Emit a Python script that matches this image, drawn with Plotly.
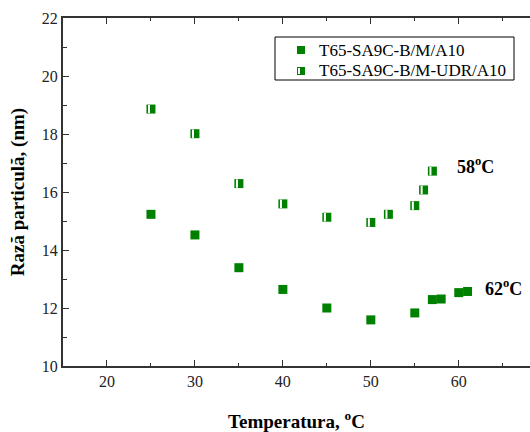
import plotly.graph_objects as go

temp_a = [25, 30, 35, 40, 45, 50, 55, 57, 58, 60, 61]
radius_a = [15.23, 14.52, 13.39, 12.64, 12.0, 11.59, 11.83, 12.29, 12.31, 12.53, 12.57]

temp_b = [25, 30, 35, 40, 45, 50, 52, 55, 56, 57]
radius_b = [18.86, 18.01, 16.29, 15.59, 15.13, 14.95, 15.23, 15.53, 16.07, 16.72]

name_a = "T65-SA9C-B/M/A10"
name_b = "T65-SA9C-B/M-UDR/A10"

GREEN = "#008000"
SERIF = "Liberation Serif"

fig = go.Figure()
fig.add_trace(go.Scatter(x=temp_a, y=radius_a, mode="markers", name=name_a, showlegend=False,
                         marker=dict(symbol="square", size=9, color=GREEN, line=dict(width=0))))
fig.add_trace(go.Scatter(x=temp_b, y=radius_b, mode="markers", name=name_b, showlegend=False,
                         marker=dict(symbol="square", size=9, color=GREEN, line=dict(width=0))))
# white stripe to make the "half-filled" square look
fig.add_trace(go.Scatter(x=[t - 0.22 for t in temp_b], y=radius_b, mode="markers", showlegend=False,
                         hoverinfo="skip",
                         marker=dict(symbol="line-ns", size=6, color="white", line=dict(color="white", width=2))))

fig.add_annotation(x=61.95, y=16.93, text="<b>58<sup>o</sup>C</b>", showarrow=False,
                   font=dict(family=SERIF, size=18, color="black"), xanchor="center", yanchor="middle")
fig.add_annotation(x=65.1, y=12.69, text="<b>62<sup>o</sup>C</b>", showarrow=False,
                   font=dict(family=SERIF, size=18, color="black"), xanchor="center", yanchor="middle")

# ---- manual legend (paper coordinates; plot area 467 x 348 px) ----
def px_x(p):
    return (p - 63) / 467.0

def px_y(p):
    return (366 - p) / 348.0

shapes = []
# legend frame
shapes.append(dict(type="rect", xref="paper", yref="paper",
                   x0=px_x(275), x1=px_x(514), y0=px_y(80), y1=px_y(37),
                   line=dict(color="black", width=1), fillcolor="white", layer="above"))
# symbols
for cy in (50, 71):
    shapes.append(dict(type="rect", xref="paper", yref="paper",
                       x0=px_x(297), x1=px_x(305), y0=px_y(cy + 4), y1=px_y(cy - 4),
                       line=dict(width=0), fillcolor=GREEN, layer="above"))
shapes.append(dict(type="rect", xref="paper", yref="paper",
                   x0=px_x(298), x1=px_x(300), y0=px_y(71 + 3), y1=px_y(71 - 3),
                   line=dict(width=0), fillcolor="white", layer="above"))

for cy, nm in ((50, name_a), (71, name_b)):
    fig.add_annotation(xref="paper", yref="paper", x=px_x(317), y=px_y(cy), text=nm,
                       showarrow=False, xanchor="left", yanchor="middle",
                       font=dict(family=SERIF, size=17, color="black"))

fig.update_layout(
    width=530, height=432,
    margin=dict(l=63, r=0, t=18, b=66),
    paper_bgcolor="white", plot_bgcolor="white",
    font=dict(family=SERIF, size=16, color="#222"),
    showlegend=False,
    shapes=shapes,
    xaxis=dict(range=[15, 68.1], tickmode="array", tickvals=[20, 30, 40, 50, 60],
               ticks="inside", ticklen=6, tickwidth=1, tickcolor="#333",
               minor=dict(ticks="inside", ticklen=3, tickwidth=1, tickcolor="#333", dtick=5, tick0=0),
               showline=True, linecolor="#333", linewidth=1.5, mirror="ticks",
               showgrid=False, zeroline=False,
               title=dict(text="<b>Temperatura, <sup>o</sup>C</b>", font=dict(family=SERIF, size=19, color="black"), standoff=26),
               tickfont=dict(family=SERIF, size=16, color="#222")),
    yaxis=dict(range=[10, 22], tickmode="array", tickvals=[10, 12, 14, 16, 18, 20, 22],
               ticks="inside", ticklen=6, tickwidth=1, tickcolor="#333",
               minor=dict(ticks="inside", ticklen=4, tickwidth=1, tickcolor="#333", dtick=1, tick0=0),
               showline=True, linecolor="#333", linewidth=2, mirror=False,
               showgrid=False, zeroline=False,
               title=dict(text="<b>Rază particulă, (nm)</b>", font=dict(family=SERIF, size=19, color="black"), standoff=12),
               tickfont=dict(family=SERIF, size=16, color="#222")),
)

fig.write_html("out.html")
